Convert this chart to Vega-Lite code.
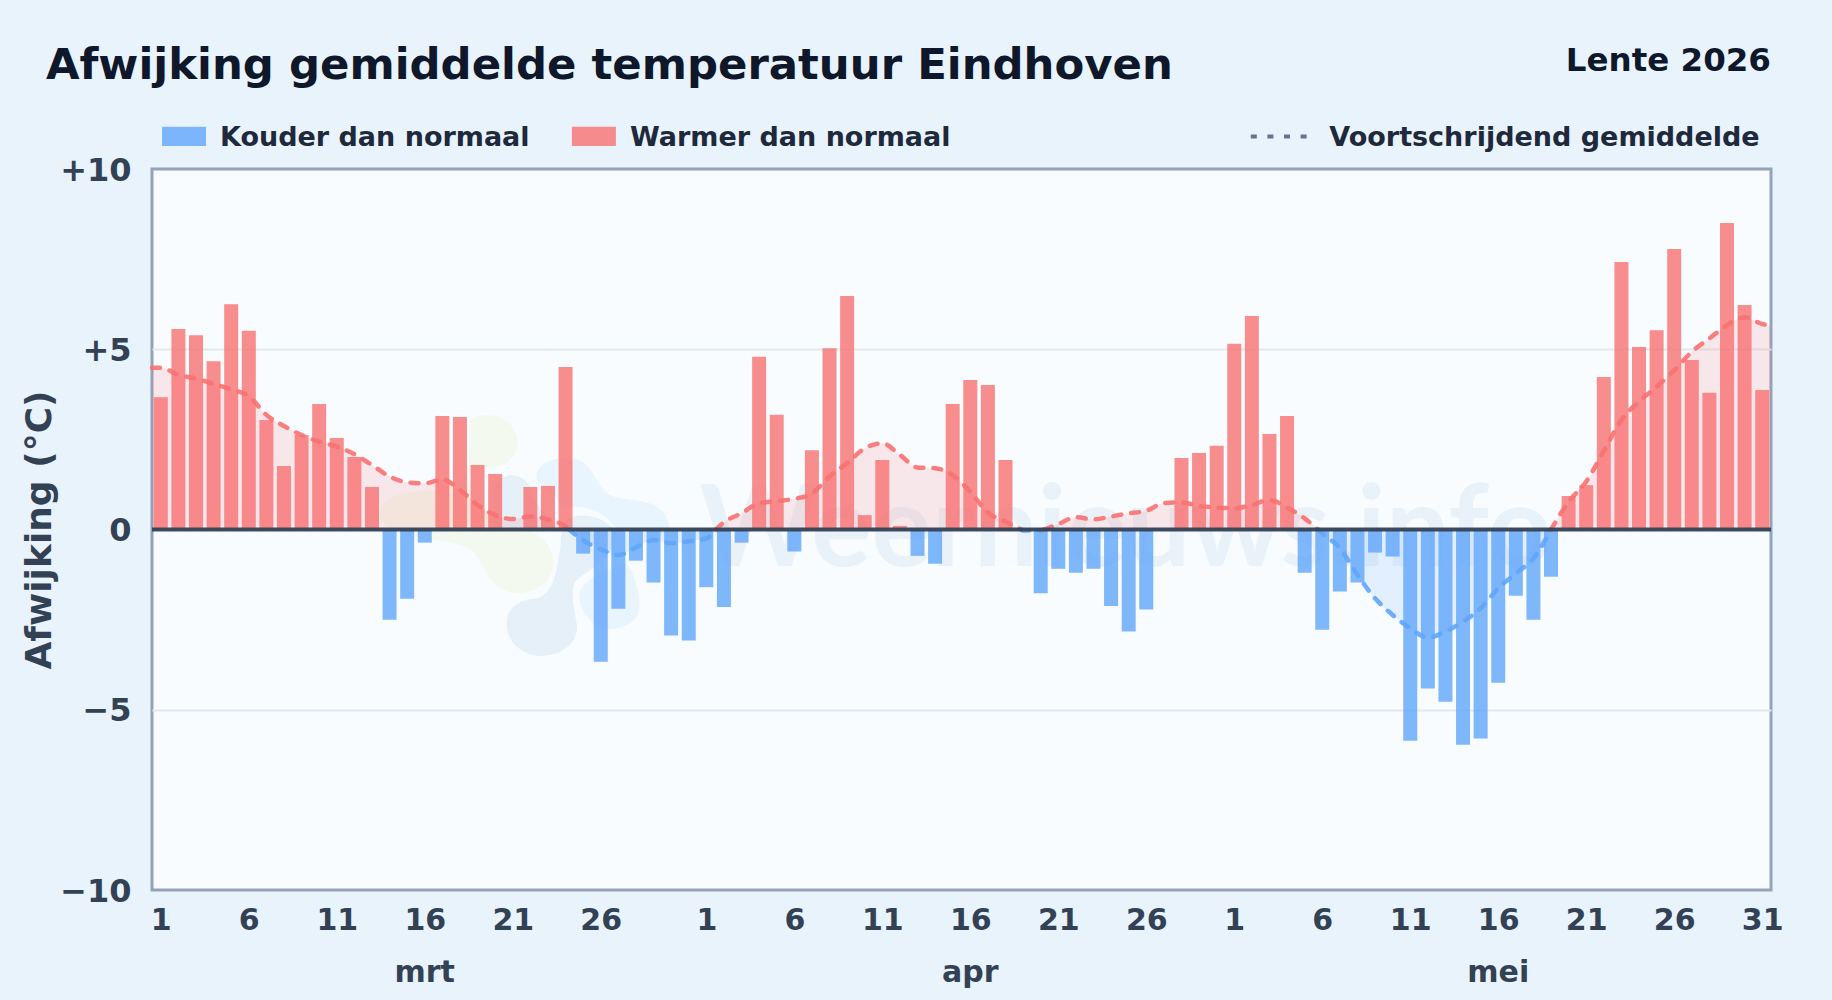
{
"$schema":"https://vega.github.io/schema/vega-lite/v6.json",
"width":1619,"height":721,"autosize":{"type":"none"},
"padding":{"left":152,"top":169,"right":61,"bottom":110},
"background":"#e8f3fc",
"view":{"fill":"#f8fcff","stroke":"#94a3b8","strokeWidth":3},
"config":{"font":"DejaVu Sans"},
"datasets":{
"dagen":[
{"dag":1,"afwijking":3.67},{"dag":2,"afwijking":5.56},{"dag":3,"afwijking":5.39},{"dag":4,"afwijking":4.67},{"dag":5,"afwijking":6.25},{"dag":6,"afwijking":5.51},{"dag":7,"afwijking":3.04},{"dag":8,"afwijking":1.76},{"dag":9,"afwijking":2.62},{"dag":10,"afwijking":3.48},{"dag":11,"afwijking":2.54},{"dag":12,"afwijking":2.01},{"dag":13,"afwijking":1.18},{"dag":14,"afwijking":-2.5},{"dag":15,"afwijking":-1.92},{"dag":16,"afwijking":-0.365},{"dag":17,"afwijking":3.15},{"dag":18,"afwijking":3.12},{"dag":19,"afwijking":1.79},{"dag":20,"afwijking":1.54},{"dag":21,"afwijking":0},{"dag":22,"afwijking":1.18},{"dag":23,"afwijking":1.21},{"dag":24,"afwijking":4.51},{"dag":25,"afwijking":-0.67},{"dag":26,"afwijking":-3.67},{"dag":27,"afwijking":-2.2},{"dag":28,"afwijking":-0.865},{"dag":29,"afwijking":-1.47},{"dag":30,"afwijking":-2.94},{"dag":31,"afwijking":-3.08},
{"dag":32,"afwijking":-1.6},{"dag":33,"afwijking":-2.15},{"dag":34,"afwijking":-0.365},{"dag":35,"afwijking":4.79},{"dag":36,"afwijking":3.18},{"dag":37,"afwijking":-0.61},{"dag":38,"afwijking":2.2},{"dag":39,"afwijking":5.03},{"dag":40,"afwijking":6.48},{"dag":41,"afwijking":0.4},{"dag":42,"afwijking":1.93},{"dag":43,"afwijking":0.1},{"dag":44,"afwijking":-0.73},{"dag":45,"afwijking":-0.95},{"dag":46,"afwijking":3.48},{"dag":47,"afwijking":4.15},{"dag":48,"afwijking":4.01},{"dag":49,"afwijking":1.93},{"dag":50,"afwijking":0},{"dag":51,"afwijking":-1.77},{"dag":52,"afwijking":-1.09},{"dag":53,"afwijking":-1.2},{"dag":54,"afwijking":-1.09},{"dag":55,"afwijking":-2.12},{"dag":56,"afwijking":-2.83},{"dag":57,"afwijking":-2.22},{"dag":58,"afwijking":0},{"dag":59,"afwijking":1.98},{"dag":60,"afwijking":2.12},{"dag":61,"afwijking":2.32},
{"dag":62,"afwijking":5.15},{"dag":63,"afwijking":5.92},{"dag":64,"afwijking":2.65},{"dag":65,"afwijking":3.15},{"dag":66,"afwijking":-1.2},{"dag":67,"afwijking":-2.78},{"dag":68,"afwijking":-1.72},{"dag":69,"afwijking":-1.47},{"dag":70,"afwijking":-0.64},{"dag":71,"afwijking":-0.75},{"dag":72,"afwijking":-5.86},{"dag":73,"afwijking":-4.41},{"dag":74,"afwijking":-4.78},{"dag":75,"afwijking":-5.97},{"dag":76,"afwijking":-5.8},{"dag":77,"afwijking":-4.25},{"dag":78,"afwijking":-1.84},{"dag":79,"afwijking":-2.5},{"dag":80,"afwijking":-1.31},{"dag":81,"afwijking":0.93},{"dag":82,"afwijking":1.23},{"dag":83,"afwijking":4.23},{"dag":84,"afwijking":7.42},{"dag":85,"afwijking":5.06},{"dag":86,"afwijking":5.53},{"dag":87,"afwijking":7.78},{"dag":88,"afwijking":4.7},{"dag":89,"afwijking":3.79},{"dag":90,"afwijking":8.5},{"dag":91,"afwijking":6.23},{"dag":92,"afwijking":3.87}
],
"gemiddelde":[
{"dag":0.5,"gem":4.49,"segment":"a","soort":"warm"},{"dag":1,"gem":4.49,"segment":"a","soort":"warm"},{"dag":2,"gem":4.29,"segment":"a","soort":"warm"},{"dag":3,"gem":4.19,"segment":"a","soort":"warm"},{"dag":4,"gem":4.04,"segment":"a","soort":"warm"},{"dag":5,"gem":3.89,"segment":"a","soort":"warm"},{"dag":6,"gem":3.7,"segment":"a","soort":"warm"},{"dag":7,"gem":3.18,"segment":"a","soort":"warm"},{"dag":8,"gem":2.87,"segment":"a","soort":"warm"},{"dag":9,"gem":2.62,"segment":"a","soort":"warm"},{"dag":10,"gem":2.44,"segment":"a","soort":"warm"},{"dag":11,"gem":2.3,"segment":"a","soort":"warm"},{"dag":12,"gem":2.09,"segment":"a","soort":"warm"},{"dag":13,"gem":1.79,"segment":"a","soort":"warm"},{"dag":14,"gem":1.47,"segment":"a","soort":"warm"},{"dag":15,"gem":1.31,"segment":"a","soort":"warm"},{"dag":16,"gem":1.28,"segment":"a","soort":"warm"},{"dag":17,"gem":1.39,"segment":"a","soort":"warm"},{"dag":18,"gem":1.1,"segment":"a","soort":"warm"},{"dag":19,"gem":0.68,"segment":"a","soort":"warm"},{"dag":20,"gem":0.4,"segment":"a","soort":"warm"},{"dag":21,"gem":0.29,"segment":"a","soort":"warm"},{"dag":22,"gem":0.36,"segment":"a","soort":"warm"},{"dag":23,"gem":0.28,"segment":"a","soort":"warm"},{"dag":24,"gem":0.08,"segment":"a","soort":"warm"},{"dag":24.2,"gem":0,"segment":"a","soort":"warm"},
{"dag":24.2,"gem":0,"segment":"b","soort":"koud"},{"dag":25,"gem":-0.3,"segment":"b","soort":"koud"},{"dag":26,"gem":-0.55,"segment":"b","soort":"koud"},{"dag":27,"gem":-0.71,"segment":"b","soort":"koud"},{"dag":28,"gem":-0.5,"segment":"b","soort":"koud"},{"dag":29,"gem":-0.29,"segment":"b","soort":"koud"},{"dag":30,"gem":-0.38,"segment":"b","soort":"koud"},{"dag":31,"gem":-0.33,"segment":"b","soort":"koud"},{"dag":32,"gem":-0.25,"segment":"b","soort":"koud"},{"dag":32.55,"gem":0,"segment":"b","soort":"koud"},
{"dag":32.55,"gem":0,"segment":"c","soort":"warm"},{"dag":33,"gem":0.2,"segment":"c","soort":"warm"},{"dag":34,"gem":0.45,"segment":"c","soort":"warm"},{"dag":35,"gem":0.73,"segment":"c","soort":"warm"},{"dag":36,"gem":0.79,"segment":"c","soort":"warm"},{"dag":37,"gem":0.85,"segment":"c","soort":"warm"},{"dag":38,"gem":1.0,"segment":"c","soort":"warm"},{"dag":39,"gem":1.47,"segment":"c","soort":"warm"},{"dag":40,"gem":1.84,"segment":"c","soort":"warm"},{"dag":41,"gem":2.25,"segment":"c","soort":"warm"},{"dag":42,"gem":2.39,"segment":"c","soort":"warm"},{"dag":43,"gem":2.07,"segment":"c","soort":"warm"},{"dag":44,"gem":1.72,"segment":"c","soort":"warm"},{"dag":45,"gem":1.7,"segment":"c","soort":"warm"},{"dag":46,"gem":1.51,"segment":"c","soort":"warm"},{"dag":47,"gem":1.05,"segment":"c","soort":"warm"},{"dag":48,"gem":0.47,"segment":"c","soort":"warm"},{"dag":49,"gem":0.22,"segment":"c","soort":"warm"},{"dag":49.9,"gem":0,"segment":"c","soort":"warm"},
{"dag":49.9,"gem":0,"segment":"d","soort":"koud"},{"dag":50,"gem":-0.03,"segment":"d","soort":"koud"},{"dag":51,"gem":-0.03,"segment":"d","soort":"koud"},{"dag":51.2,"gem":0,"segment":"d","soort":"koud"},
{"dag":51.2,"gem":0,"segment":"e","soort":"warm"},{"dag":52,"gem":0.15,"segment":"e","soort":"warm"},{"dag":53,"gem":0.34,"segment":"e","soort":"warm"},{"dag":54,"gem":0.28,"segment":"e","soort":"warm"},{"dag":55,"gem":0.36,"segment":"e","soort":"warm"},{"dag":56,"gem":0.45,"segment":"e","soort":"warm"},{"dag":57,"gem":0.52,"segment":"e","soort":"warm"},{"dag":58,"gem":0.73,"segment":"e","soort":"warm"},{"dag":59,"gem":0.75,"segment":"e","soort":"warm"},{"dag":60,"gem":0.65,"segment":"e","soort":"warm"},{"dag":61,"gem":0.61,"segment":"e","soort":"warm"},{"dag":62,"gem":0.59,"segment":"e","soort":"warm"},{"dag":63,"gem":0.68,"segment":"e","soort":"warm"},{"dag":64,"gem":0.82,"segment":"e","soort":"warm"},{"dag":65,"gem":0.61,"segment":"e","soort":"warm"},{"dag":66,"gem":0.31,"segment":"e","soort":"warm"},{"dag":66.75,"gem":0,"segment":"e","soort":"warm"},
{"dag":66.75,"gem":0,"segment":"f","soort":"koud"},{"dag":67,"gem":-0.11,"segment":"f","soort":"koud"},{"dag":68,"gem":-0.52,"segment":"f","soort":"koud"},{"dag":69,"gem":-1.26,"segment":"f","soort":"koud"},{"dag":70,"gem":-1.91,"segment":"f","soort":"koud"},{"dag":71,"gem":-2.37,"segment":"f","soort":"koud"},{"dag":72,"gem":-2.74,"segment":"f","soort":"koud"},{"dag":73,"gem":-3.0,"segment":"f","soort":"koud"},{"dag":74,"gem":-2.83,"segment":"f","soort":"koud"},{"dag":75,"gem":-2.56,"segment":"f","soort":"koud"},{"dag":76,"gem":-2.19,"segment":"f","soort":"koud"},{"dag":77,"gem":-1.63,"segment":"f","soort":"koud"},{"dag":78,"gem":-1.22,"segment":"f","soort":"koud"},{"dag":79,"gem":-0.8,"segment":"f","soort":"koud"},{"dag":80,"gem":0,"segment":"f","soort":"koud"},
{"dag":80,"gem":0,"segment":"g","soort":"warm"},{"dag":81,"gem":0.77,"segment":"g","soort":"warm"},{"dag":82,"gem":1.33,"segment":"g","soort":"warm"},{"dag":83,"gem":2.18,"segment":"g","soort":"warm"},{"dag":84,"gem":3.04,"segment":"g","soort":"warm"},{"dag":85,"gem":3.55,"segment":"g","soort":"warm"},{"dag":86,"gem":3.96,"segment":"g","soort":"warm"},{"dag":87,"gem":4.42,"segment":"g","soort":"warm"},{"dag":88,"gem":4.93,"segment":"g","soort":"warm"},{"dag":89,"gem":5.3,"segment":"g","soort":"warm"},{"dag":90,"gem":5.67,"segment":"g","soort":"warm"},{"dag":91,"gem":5.89,"segment":"g","soort":"warm"},{"dag":92,"gem":5.7,"segment":"g","soort":"warm"},{"dag":92.5,"gem":5.66,"segment":"g","soort":"warm"}
]
},
"layer":[
{"data":{"values":[{"dag":31.6,"w":-1.0,"t":"Weernieuws.info"}]},
 "mark":{"type":"text","align":"left","baseline":"alphabetic","fontSize":113,"fontWeight":"bold","font":"Lato","color":"#e9f2f9"},
 "encoding":{"x":{"field":"dag","type":"quantitative","scale":{"domain":[0.5,92.5],"nice":false,"zero":false,"padding":0},
   "axis":{"values":[1,6,11,16,21,26,32,37,42,47,52,57,62,67,72,77,82,87,92],"labelExpr":"datum.value<=31?datum.value:(datum.value<=61?datum.value-31:datum.value-61)","title":null,"domain":false,"ticks":false,"grid":false,"labelFontSize":30,"labelFontWeight":"bold","labelColor":"#334155","labelPadding":15,"labelOverlap":false,"labelBound":false,"labelFlush":false,"labelFont":"DejaVu Sans"}},
  "y":{"field":"w","type":"quantitative","scale":{"domain":[-10,10],"nice":false,"padding":0},
   "axis":{"values":[-10,-5,0,5,10],"labelExpr":"datum.value>0?'+'+datum.value:(datum.value<0?'−'+abs(datum.value):'0')","title":"Afwijking (°C)","titleX":-113,"titleY":360.5,"titleAngle":-90,"titleAlign":"center","titleBaseline":"middle","titleFontSize":36,"titleFontWeight":"bold","titleColor":"#334155","titleFont":"DejaVu Sans","domain":false,"ticks":false,"labelFontSize":32,"labelFontWeight":"bold","labelColor":"#334155","labelPadding":21,"labelOffset":1,"labelFont":"DejaVu Sans","grid":true,"gridColor":{"expr":"abs(datum.value)==5?'#e2e8f0':'transparent'"},"gridWidth":2}},
  "text":{"field":"t"}}},
{"data":{"values":[{"dag":22.55,"w":-0.29}]},
 "mark":{"type":"point","filled":true,"size":0.444,"opacity":1,"color":"#f3f9ee","shape":"M-210,-360 C-160,-395 -68,-370 -68,-290 C-68,-235 -120,-218 -170,-215 C-220,-210 -250,-160 -315,-150 C-390,-145 -482,-140 -482,-80 C-482,-20 -390,-10 -320,0 C-240,10 -200,20 -175,70 C-150,140 -100,162 -60,160 C0,155 45,115 40,60 C35,0 -20,-30 -100,-50 C-160,-70 -220,-130 -215,-210 Z"},
 "encoding":{"x":{"field":"dag","type":"quantitative"},"y":{"field":"w","type":"quantitative"}}},
{"data":{"values":[{"dag":22.55,"w":-0.29}]},
 "mark":{"type":"point","filled":true,"size":0.444,"opacity":1,"color":"#e9f5fe","shape":"M-10,-190 C-10,-235 50,-250 100,-245 C150,-235 160,-190 190,-150 C230,-110 290,-130 340,-105 C390,-80 395,-30 380,-20 L230,-30 C200,-80 150,-100 100,-100 L60,-100 C50,-150 -10,-160 -10,-190 Z M120,160 C130,110 210,90 260,70 C290,110 310,190 290,230 C260,275 180,280 150,240 C125,210 115,190 120,160 Z"},
 "encoding":{"x":{"field":"dag","type":"quantitative"},"y":{"field":"w","type":"quantitative"}}},
{"data":{"values":[{"dag":22.55,"w":-0.29}]},
 "mark":{"type":"point","filled":true,"size":0.444,"opacity":1,"color":"#e6f0f8","shape":"M-100,250 C-100,200 -60,180 -10,175 C50,160 50,70 60,30 C70,-30 50,-55 110,-72 C170,-80 230,-40 230,-10 C210,60 150,90 110,120 C90,140 100,200 110,250 C120,310 60,350 0,348 C-60,345 -102,300 -100,250 Z M-140,-150 C-120,-205 -60,-210 -30,-160 C-20,-110 20,-70 60,-30 L-60,-30 L-140,-40 Z"},
 "encoding":{"x":{"field":"dag","type":"quantitative"},"y":{"field":"w","type":"quantitative"}}},
{"data":{"name":"gemiddelde"},
 "mark":{"type":"area","interpolate":"monotone","opacity":0.15},
 "encoding":{"x":{"field":"dag","type":"quantitative"},"y":{"field":"gem","type":"quantitative","stack":null},"y2":{"datum":0},"detail":{"field":"segment"},
  "color":{"field":"soort","type":"nominal","scale":{"domain":["koud","warm"],"range":["#60a5fa","#f87171"]},"legend":null}}},
{"data":{"name":"dagen"},
 "transform":[{"calculate":"datum.afwijking<0?'koud':'warm'","as":"soort"}],
 "mark":{"type":"bar","size":14,"orient":"vertical","opacity":0.8},
 "encoding":{"x":{"field":"dag","type":"quantitative"},"y":{"field":"afwijking","type":"quantitative","stack":null},
  "color":{"field":"soort","type":"nominal","scale":{"domain":["koud","warm"],"range":["#60a5fa","#f87171"]},"legend":null}}},
{"data":{"name":"gemiddelde"},
 "mark":{"type":"line","interpolate":"monotone","strokeWidth":4.5,"strokeDash":[8,10],"strokeCap":"round","opacity":0.9},
 "encoding":{"x":{"field":"dag","type":"quantitative"},"y":{"field":"gem","type":"quantitative"},"detail":{"field":"segment"},
  "color":{"field":"soort","type":"nominal","scale":{"domain":["koud","warm"],"range":["#60a5fa","#f87171"]},"legend":null}}},
{"data":{"values":[{"w":0}]},
 "mark":{"type":"rule","color":"#334155","strokeWidth":4,"opacity":0.95},
 "encoding":{"y":{"field":"w","type":"quantitative"}}},
{"data":{"values":[{"dag":1.07,"dag2":3.57,"w":11.17,"w2":10.64,"soort":"koud"},{"dag":24.36,"dag2":26.86,"w":11.17,"w2":10.64,"soort":"warm"}]},
 "mark":{"type":"rect","opacity":0.8},
 "encoding":{"x":{"field":"dag","type":"quantitative"},"x2":{"field":"dag2"},"y":{"field":"w","type":"quantitative"},"y2":{"field":"w2"},
  "color":{"field":"soort","type":"nominal","scale":{"domain":["koud","warm"],"range":["#60a5fa","#f87171"]},"legend":null}}},
{"data":{"values":[{"dag":62.94,"w":10.9},{"dag":66.2,"w":10.9}]},
 "mark":{"type":"line","color":"#64748b","strokeWidth":4,"strokeDash":[6,10.6]},
 "encoding":{"x":{"field":"dag","type":"quantitative"},"y":{"field":"w","type":"quantitative"}}},
{"data":{"values":[{"dag":4.36,"w":10.87,"t":"Kouder dan normaal"},{"dag":27.66,"w":10.87,"t":"Warmer dan normaal"},{"dag":67.4,"w":10.87,"t":"Voortschrijdend gemiddelde"}]},
 "mark":{"type":"text","align":"left","baseline":"middle","fontSize":27,"fontWeight":"bold","font":"DejaVu Sans","color":"#1e293b"},
 "encoding":{"x":{"field":"dag","type":"quantitative"},"y":{"field":"w","type":"quantitative"},"text":{"field":"t"}}},
{"data":{"values":[{"dag":92.5,"w":13.0,"t":"Lente 2026"}]},
 "mark":{"type":"text","align":"right","baseline":"middle","fontSize":32.5,"fontWeight":"bold","font":"DejaVu Sans","color":"#0f172a"},
 "encoding":{"x":{"field":"dag","type":"quantitative"},"y":{"field":"w","type":"quantitative"},"text":{"field":"t"}}},
{"data":{"values":[{"dag":-5.53,"w":12.5,"t":"Afwijking gemiddelde temperatuur Eindhoven"}]},
 "mark":{"type":"text","align":"left","baseline":"alphabetic","fontSize":43.4,"fontWeight":"bold","font":"DejaVu Sans","color":"#0f172a"},
 "encoding":{"x":{"field":"dag","type":"quantitative"},"y":{"field":"w","type":"quantitative"},"text":{"field":"t"}}},
{"data":{"values":[{"dag":16,"w":-12.3,"t":"mrt"},{"dag":47,"w":-12.3,"t":"apr"},{"dag":77,"w":-12.3,"t":"mei"}]},
 "mark":{"type":"text","align":"center","baseline":"middle","fontSize":30,"fontWeight":"bold","font":"DejaVu Sans","color":"#334155"},
 "encoding":{"x":{"field":"dag","type":"quantitative"},"y":{"field":"w","type":"quantitative"},"text":{"field":"t"}}}
]
}
